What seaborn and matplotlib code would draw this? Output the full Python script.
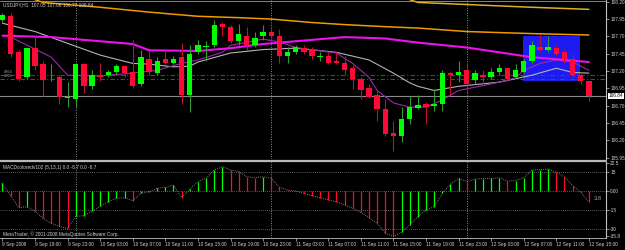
import matplotlib
matplotlib.use("Agg")
import matplotlib.pyplot as plt
from matplotlib.patches import Rectangle
from matplotlib.lines import Line2D
import numpy as np
import pandas as pd
import seaborn as sns

# ---------------- data (USDJPY H1, 9 Sep 15:00 .. 12 Sep 15:00) ----------------
opens = [107.94, 107.99, 107.47, 107.11, 107.53, 107.30, 107.08, 107.12, 106.81, 106.79,
         107.30, 106.98, 107.14, 107.14, 107.18, 107.27, 107.18, 107.01, 107.38, 107.17,
         107.38, 107.32, 107.40, 106.86, 107.47, 107.55, 107.57, 107.88, 107.84, 107.63,
         107.71, 107.58, 107.71, 107.77, 107.71, 107.41, 107.47, 107.53, 107.50, 107.40,
         107.41, 107.35, 107.32, 107.24, 107.08, 106.96, 106.85, 106.65, 106.30, 106.26,
         106.51, 106.66, 106.72, 106.69, 106.72, 107.17, 107.15, 107.22, 107.07, 107.15,
         107.12, 107.18, 107.24, 107.12, 107.19, 107.34, 107.55, 107.50, 107.53, 107.47,
         107.37, 107.14, 107.05]
highs = [108.04, 108.04, 107.51, 107.55, 107.70, 107.35, 107.30, 107.15, 107.04, 107.32,
         107.32, 107.22, 107.32, 107.22, 107.30, 107.28, 107.65, 107.51, 107.51, 107.40,
         107.51, 107.41, 107.61, 107.58, 107.65, 107.63, 107.94, 107.91, 107.87, 107.88,
         107.83, 107.77, 107.87, 107.83, 107.80, 107.54, 107.57, 107.58, 107.55, 107.48,
         107.48, 107.48, 107.41, 107.28, 107.12, 107.02, 106.91, 106.79, 106.48, 106.68,
         106.84, 106.86, 106.76, 106.94, 107.22, 107.19, 107.35, 107.30, 107.22, 107.22,
         107.25, 107.30, 107.25, 107.30, 107.37, 107.63, 107.73, 107.70, 107.58, 107.51,
         107.44, 107.18, 107.06]
lows = [107.91, 107.40, 107.05, 107.08, 107.22, 106.84, 107.05, 106.72, 106.68, 106.68,
        106.89, 106.94, 107.05, 107.11, 107.15, 107.12, 106.96, 106.98, 107.15, 107.14,
        107.30, 107.30, 106.72, 106.61, 107.44, 107.34, 107.55, 107.70, 107.60, 107.58,
        107.51, 107.55, 107.65, 107.68, 107.32, 107.32, 107.44, 107.44, 107.37, 107.34,
        107.30, 107.30, 107.15, 106.94, 106.79, 106.81, 106.48, 106.26, 106.05, 106.17,
        106.43, 106.65, 106.43, 106.62, 106.62, 106.86, 107.04, 106.89, 107.02, 107.02,
        107.08, 107.15, 107.05, 107.11, 107.17, 107.32, 107.48, 107.48, 107.42, 107.32,
        107.12, 107.02, 106.77]
closes = [108.01, 107.44, 107.09, 107.53, 107.27, 107.07, 107.09, 106.82, 106.83, 107.30,
          106.98, 107.14, 107.11, 107.18, 107.27, 107.17, 106.98, 107.40, 107.18, 107.35,
          107.32, 107.38, 106.86, 107.45, 107.57, 107.56, 107.87, 107.84, 107.63, 107.73,
          107.57, 107.68, 107.77, 107.71, 107.41, 107.48, 107.54, 107.47, 107.41, 107.41,
          107.32, 107.32, 107.21, 107.09, 106.92, 106.82, 106.65, 106.29, 106.27, 106.51,
          106.68, 106.71, 106.68, 106.72, 107.17, 107.14, 107.19, 107.01, 107.17, 107.12,
          107.18, 107.25, 107.08, 107.21, 107.35, 107.57, 107.50, 107.54, 107.44, 107.37,
          107.15, 107.05, 106.84]

macd = [6.0, -3.7, -13.0, -12.5, -16.0, -21.6, -25.5, -28.0, -29.5, -20.0,
        -19.5, -16.0, -12.0, -8.4, -5.8, -5.3, -7.6, -1.8, -0.5, 2.1,
        2.9, 4.7, -5.3, 1.3, 7.4, 10.0, 16.6, 19.2, 16.6, 15.3,
        11.3, 10.5, 11.3, 10.0, 2.9, 0.8, 0.0, -1.8, -3.7, -5.3,
        -7.0, -8.4, -11.0, -13.7, -16.8, -21.0, -25.5, -33.4, -35.8, -32.6,
        -26.8, -20.3, -15.0, -12.4, -1.8, 5.3, 10.0, 7.4, 9.5, 9.7,
        9.9, 10.5, 7.9, 8.2, 10.5, 16.6, 16.8, 17.4, 14.7, 11.3,
        4.2, -1.0, -8.7]

# moving averages read at selected bars
orange_bar = [4, 5, 12, 18, 24, 29, 33, 38, 42, 47, 51, 57, 65, 72]
orange_val = [108.23, 108.19, 108.12, 108.05, 107.99, 107.97, 107.95, 107.90, 107.87, 107.84, 107.82, 107.77, 107.74, 107.72]
gold_bar = [50, 51, 57, 65, 72]
gold_val = [108.23, 108.19, 108.16, 108.12, 108.09]
magenta_bar = [0, 6, 16, 18, 24, 28, 32, 36, 42, 47, 51, 57, 61, 65, 69, 72]
magenta_val = [107.71, 107.69, 107.59, 107.50, 107.49, 107.53, 107.59, 107.63, 107.69, 107.67, 107.61, 107.54, 107.47, 107.40, 107.36, 107.33]
silver_bar = [0, 2, 4, 8, 12, 16, 18, 21, 23, 24, 28, 32, 36, 41, 45, 48, 50, 51, 53, 56, 61, 65, 68, 70, 72]
silver_val = [107.89, 107.83, 107.77, 107.60, 107.43, 107.31, 107.30, 107.26, 107.27, 107.33, 107.46, 107.51, 107.53,
              107.47, 107.36, 107.17, 107.03, 106.98, 106.92, 106.98, 107.04, 107.14, 107.24, 107.18, 107.17]
violet_bar = [1, 6, 8, 12, 16, 19, 21, 22, 24, 27, 28, 32, 34, 36, 41, 43, 45, 46, 48, 50, 51, 52, 54, 56, 59, 61, 63, 64, 66, 68, 70, 72]
violet_val = [107.69, 107.40, 107.14, 107.13, 107.17, 107.21, 107.28, 107.31, 107.36, 107.47, 107.57, 107.66, 107.62, 107.54,
              107.46, 107.31, 107.11, 106.92, 106.74, 106.68, 106.68, 106.68, 106.78, 106.92, 106.99, 107.04, 107.10, 107.21,
              107.31, 107.36, 107.33, 107.21]

levels_green = [107.15, 107.08]
bid_price = 106.84
day_breaks = [9, 33, 57]
box_bars = [63.9, 70.9]
box_prices = [107.05, 107.71]

price_ticks = [108.20, 107.95, 107.70, 107.45, 107.20, 106.95, 106.70, 106.45, 106.20, 105.95]
macd_ticks = [22.5, 15, 0, -15, -30, -35.8]
macd_tick_labels = ["22.5", "15", "0.00", "-15", "-30", "-35.8"]
time_ticks = list(range(0, 73, 4))
time_labels = ["9 Sep 2008", "9 Sep 19:00", "9 Sep 23:00", "10 Sep 03:00", "10 Sep 07:00", "10 Sep 11:00",
               "10 Sep 15:00", "10 Sep 19:00", "10 Sep 23:00", "11 Sep 03:00", "11 Sep 07:00", "11 Sep 11:00",
               "11 Sep 15:00", "11 Sep 19:00", "11 Sep 23:00", "12 Sep 03:00", "12 Sep 07:00", "12 Sep 11:00",
               "12 Sep 15:00"]

# ---------------- style ----------------
sns.set_theme(style="dark")
plt.rcParams['font.family'] = ['Liberation Sans', 'DejaVu Sans']
TXT = '#d0d0d0'
FS = 3.45

W, H = 625, 250
fig = plt.figure(figsize=(6.25, 2.5), dpi=100, facecolor='black')
fx = lambda px: px / W
fy = lambda py: 1 - py / H

ax = fig.add_axes([0, fy(159), fx(606), fy(0) - fy(159)])
ax2 = fig.add_axes([0, fy(238), fx(606), fy(162) - fy(238)])
for a in (ax, ax2):
    a.set_facecolor('black')
    a.grid(False)
    a.set_xlim(-0.3, 74.1)
    for s in a.spines.values():
        s.set_visible(False)
    a.spines['right'].set_visible(True)
    a.spines['right'].set_color('#c0c0c0')
    a.spines['right'].set_linewidth(0.8)
    for b in day_breaks:
        a.axvline(b, color='#909090', lw=0.7, ls=(0, (1, 1.5)), zorder=1)

ax.set_ylim(105.931, 108.225)
ax2.set_ylim(-37.1, 22.9)

df = pd.DataFrame({'bar': np.arange(len(opens)), 'open': opens, 'high': highs,
                   'low': lows, 'close': closes})
up = df['close'] >= df['open']

# overlays
ax.add_patch(Rectangle((box_bars[0], box_prices[0]), box_bars[1] - box_bars[0],
                       box_prices[1] - box_prices[0], facecolor='#1c1cf2', edgecolor='none', zorder=1))
for lv in levels_green:
    ax.axhline(lv, color='#1f6b1f', lw=0.8, ls=(0, (4, 2, 1, 2)), zorder=1.5)
ax.axhline(bid_price, color='#8a8a8a', lw=0.8, zorder=1.5)

sns.lineplot(x=orange_bar, y=orange_val, ax=ax, color='#f09a00', lw=1.1, estimator=None, sort=False, zorder=2)
sns.lineplot(x=gold_bar, y=gold_val, ax=ax, color='#e0b020', lw=1.1, estimator=None, sort=False, zorder=2)
sns.lineplot(x=magenta_bar, y=magenta_val, ax=ax, color='#ee10ee', lw=1.5, estimator=None, sort=False, zorder=2.2)
sns.lineplot(x=silver_bar, y=silver_val, ax=ax, color='#b4b4b4', lw=0.8, estimator=None, sort=False, zorder=2.1)
sns.lineplot(x=violet_bar, y=violet_val, ax=ax, color='#9a2aa8', lw=0.8, estimator=None, sort=False, zorder=2.1)

# candles
ax.vlines(df['bar'], df['low'], df['high'],
          colors=np.where(up, '#2f9a2f', '#c0102e'), lw=0.8, zorder=3)
body_lo = np.minimum(df['open'], df['close'])
body_h = np.maximum((df['close'] - df['open']).abs(), 0.012)
ax.bar(df['bar'], body_h, bottom=body_lo, width=0.66,
       color=np.where(up, '#00ff00', '#ff0a36'), lw=0, zorder=4)

ax.yaxis.tick_right()
ax.set_yticks(price_ticks)
ax.set_yticklabels([f"{p:.2f}" for p in price_ticks])
ax.tick_params(axis='y', length=2, width=0.5, pad=1, labelsize=FS, colors='#c0c0c0', labelcolor=TXT)
ax.tick_params(axis='x', bottom=False, labelbottom=False)
ax.set_xlabel('')
ax.set_ylabel('')
ax.annotate(f"{bid_price:.2f}", xy=(1.0, bid_price), xycoords=('axes fraction', 'data'),
            xytext=(2, 0), textcoords='offset points', fontsize=FS, color='black', va='center', ha='left',
            bbox=dict(boxstyle='square,pad=0.2', fc='white', ec='none'), annotation_clip=False)

# MACD
prev = [macd[0]] + macd[:-1]
mcol = ['#00ff00' if (i == 0 or v >= p) else '#ff0a2a' for i, (v, p) in enumerate(zip(macd, prev))]
for lv in [15, 0, -15, -30]:
    ax2.axhline(lv, color='#7a7a7a', lw=0.6, ls=(0, (1, 1.5)), zorder=1)
ax2.vlines(np.arange(len(macd)), 0, macd, colors=mcol, lw=0.9, zorder=3)
sns.lineplot(x=np.arange(len(macd)), y=macd, ax=ax2, color='#a0a0a0', lw=0.6, ls=(0, (1, 1.5)),
             estimator=None, sort=False, zorder=4)
ax2.yaxis.tick_right()
ax2.set_yticks(macd_ticks)
ax2.set_yticklabels(macd_tick_labels)
ax2.tick_params(axis='y', length=2, width=0.5, pad=1, labelsize=FS, colors='#c0c0c0', labelcolor=TXT)
ax2.set_xticks(time_ticks)
ax2.set_xticklabels(time_labels, ha='left')
ax2.tick_params(axis='x', bottom=True, length=2, width=0.5, pad=1, labelsize=FS, colors='#c0c0c0', labelcolor=TXT)
ax2.spines['bottom'].set_visible(True)
ax2.spines['bottom'].set_color('#c0c0c0')
ax2.spines['bottom'].set_linewidth(0.6)
ax2.set_xlabel('')
ax2.set_ylabel('')

# frame pieces
fig.add_artist(Line2D([0, fx(606)], [fy(160.5), fy(160.5)], color='#b8b8b8', lw=1.6))
fig.add_artist(Line2D([0, fx(606)], [fy(0.5), fy(0.5)], color='#9a9a9a', lw=0.6))

# texts
fig.text(fx(3), fy(5), "USDJPY,H1  107.05 107.06 106.77 106.84", fontsize=FS, color=TXT, va='center', ha='left')
fig.text(fx(3), fy(167), "MACDcoloredv102 (5,13,1) 0.0 -8.7 0.0 -8.7", fontsize=FS, color=TXT, va='center', ha='left')
fig.text(fx(3), fy(234), "MetaTrader, \u00a9 2001-2008 MetaQuotes Software Corp.", fontsize=FS, color=TXT,
         va='center', ha='left')
fig.text(fx(594), fy(198), "3.8", fontsize=4.2, color='#a0a0a0', va='center', ha='left')
fig.text(fx(4), fy(72), "#864", fontsize=2.8, color='#a0a0a0', va='center', ha='left')
fig.text(fx(4), fy(76), "#865", fontsize=2.8, color='#a0a0a0', va='center', ha='left')

fig.savefig("out.png", dpi=100, facecolor='black')
